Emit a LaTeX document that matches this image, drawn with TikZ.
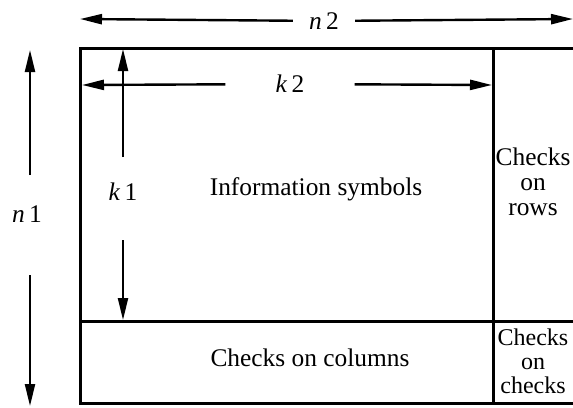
\documentclass[tikz,border=0pt]{standalone}
\usepackage{fontspec}
\setmainfont{Liberation Serif}
\usetikzlibrary{arrows.meta}

\begin{document}
\begin{tikzpicture}[
		x=0.5pt, y=-0.5pt,
		every node/.style={inner sep=0pt, font=\fontsize{12.7}{12.5}\selectfont},
		frame/.style={line width=1.5pt, line cap=rect},
		dim/.style={line width=1.2pt, -{Triangle[length=11pt, width=5pt]}},
		dimlabel/.style={inner xsep=8pt},
		checkbox/.style={align=center},
		]
		\useasboundingbox (0,0) rectangle (573,407);
		% frame of the code array
		\coordinate (tl) at (80,48);
		\coordinate (tr) at (573,48);
		\coordinate (bl) at (80,403);
		\coordinate (br) at (573,403);
		\coordinate (dt) at (493,48);
		\coordinate (db) at (493,403);
		\coordinate (hl) at (80,321);
		\coordinate (hr) at (573,321);
		\draw [frame] (tr) -- (tl) -- (bl) -- (br);
		\draw [frame] (dt) -- (db);
		\draw [frame] (hl) -- (hr);
		% dimensions
		\coordinate (n2L) at (80,19);
		\coordinate (n2R) at (573,19);
		\node [dimlabel] (n2lbl) at (324,21) {\textit{n}\,2};
		\draw [dim] (n2lbl) -- (n2L);
		\draw [dim] (n2lbl) -- (n2R);
		\coordinate (k2L) at (82,85);
		\coordinate (k2R) at (492,85);
		\node [dimlabel, inner xsep=25pt] (k2lbl) at (290,84) {\textit{k}\,2};
		\draw [dim] (k2lbl) -- (k2L);
		\draw [dim] (k2lbl) -- (k2R);
		\coordinate (k1T) at (123,49);
		\coordinate (k1B) at (123,320);
		\coordinate (k1a) at (123,157);
		\coordinate (k1b) at (123,240);
		\node (k1lbl) at (123,192) {\textit{k}\,1};
		\draw [dim] (k1a) -- (k1T);
		\draw [dim] (k1b) -- (k1B);
		\coordinate (n1T) at (30,50);
		\coordinate (n1B) at (30,406);
		\coordinate (n1a) at (30,175);
		\coordinate (n1b) at (30,275);
		\node (n1lbl) at (27,214) {\textit{n}\,1};
		\draw [dim] (n1a) -- (n1T);
		\draw [dim] (n1b) -- (n1B);
		% blocks
		\node (info) at (316,189) {Information symbols};
		\node (cols) at (310,358) {Checks on columns};
		\node [checkbox] (rows) at (533,182) {Checks\\on\\rows};
		\node [checkbox, font=\fontsize{12}{12}\selectfont] (chks) at (533,361) {Checks\\on\\checks};
	\end{tikzpicture}
\end{document}
